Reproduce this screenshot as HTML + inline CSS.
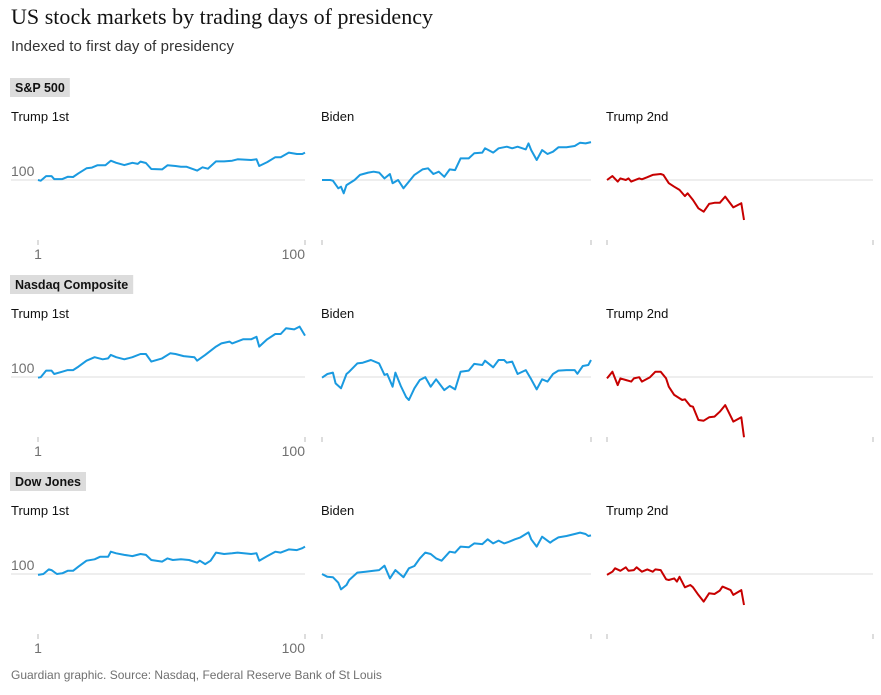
<!DOCTYPE html>
<html><head><meta charset="utf-8">
<style>
body{margin:0;background:#fff;width:881px;height:695px;overflow:hidden;font-family:"Liberation Sans",sans-serif;}
svg{display:block}
</style></head>
<body>
<svg id="chart" width="881" height="695" xmlns="http://www.w3.org/2000/svg">
<text x="11" y="24" font-family="Liberation Serif, serif" font-size="22" fill="#121212" textLength="422">US stock markets by trading days of presidency</text>
<text x="11" y="51" font-size="15" fill="#333" textLength="223">Indexed to first day of presidency</text>
<text x="11" y="679" font-size="12" fill="#707070">Guardian graphic. Source: Nasdaq, Federal Reserve Bank of St Louis</text>
<g id="plots"></g>
</svg>
<script>
const indexNames = ["S&P 500", "Nasdaq Composite", "Dow Jones"];
const presidencies = ["Trump 1st", "Biden", "Trump 2nd"];
const xTickLabels = ["1", "100"];
const baseLabel = "100";

// S&P 500 (percent change from day 1)
const spT1Days = [1,2,4,6,7,10,12,14,16,19,21,23,26,28,30,33,36,38,39,41,43,47,49,52,54,56,60,62,64,67,70,73,75,80,82,83,86,89,91,94,97,99,100];
const spT1Vals = [0,-0.3,1.7,1.7,0.4,0.4,1.4,1.3,2.9,5.1,5.4,6.4,6.4,8.4,7.5,6.5,7.5,7.0,8.0,7.4,4.8,4.6,6.4,6.1,5.8,5.8,4.1,5.5,4.9,8.1,8.1,8.4,9.0,8.7,9.0,6.1,7.8,9.9,9.9,11.9,11.3,11.3,11.9];
const spBDays = [1,4,5,7,8,9,10,13,15,18,20,22,24,26,27,29,31,33,35,38,40,42,44,46,48,50,52,55,57,60,61,64,66,69,71,73,76,77,78,80,82,84,86,88,91,94,96,98,100];
const spBVals = [0,0,-0.3,-3.6,-2.9,-5.8,-2.2,0,2.2,3.2,3.6,3.2,0.7,2.6,-1.4,0,-3.6,-0.7,2.2,4.6,5.1,2.6,3.6,1.4,4.6,4.3,9.4,9.4,11.6,11.9,13.8,11.9,13.8,14.5,13.8,14.5,13.3,15.9,13.0,8.7,13.0,11.3,12.3,14.2,14.2,14.8,16.2,15.9,16.5];
const spT2Days = [1,3,5,6,8,9,10,13,14,16,18,21,22,24,26,28,30,31,33,35,37,39,41,43,45,48,51,52];
const spT2Vals = [0,1.7,-0.7,0.7,0,0.7,-0.7,0.7,0.3,1.2,2.2,2.6,2.2,-1.4,-2.9,-4.3,-7.0,-5.8,-8.7,-12.3,-13.8,-10.4,-9.9,-9.9,-7.2,-11.9,-10.1,-17.4];

// Nasdaq
const nqT1Days = [1,2,4,6,7,10,12,14,16,19,22,25,27,28,30,33,36,39,41,43,47,50,52,55,59,60,63,67,69,72,73,77,80,82,83,86,89,91,93,96,98,100];
const nqT1Vals = [-0.3,-0.1,2.8,2.8,1.3,2.3,3.0,3.0,4.5,7.1,8.6,7.7,8.1,9.6,8.6,7.7,8.6,10.0,10.0,6.7,8.1,10.3,10.0,9.1,8.6,7.1,9.6,13.2,14.6,15.4,14.6,16.4,16.4,17.5,13.2,16.4,18.7,18.7,21.2,20.7,21.9,18.0];
const nqBDays = [1,3,5,6,8,10,11,14,16,19,22,24,25,27,28,30,32,33,35,37,39,41,43,46,48,50,52,55,57,60,61,64,66,68,69,71,73,76,78,80,82,84,86,88,91,94,95,97,99,100];
const nqBVals = [-0.3,1.3,1.9,-2.8,-4.9,1.3,2.3,5.9,6.2,7.4,5.9,0.9,1.3,-4.2,1.9,-3.9,-8.8,-10.0,-4.9,-1.3,-0.1,-4.2,-1.0,-5.7,-3.9,-5.4,2.3,2.8,5.7,5.2,7.1,4.2,7.4,7.4,6.2,6.7,1.3,3.0,-1.0,-5.4,-1.0,-2.0,1.3,2.8,3.0,3.0,1.4,4.8,5.2,7.4];
const nqT2Days = [1,3,5,6,8,10,11,13,14,17,19,21,23,24,26,29,30,32,33,35,37,39,41,43,45,48,51,52];
const nqT2Vals = [-0.6,2.3,-3.5,-0.6,-1.3,-2.0,-0.6,-0.1,-2.0,-0.1,2.3,2.3,-0.6,-4.2,-7.8,-10.0,-9.7,-12.6,-12.9,-18.7,-19.0,-17.5,-17.2,-15.1,-12.2,-19.4,-17.5,-26.2];

// Dow Jones
const djT1Days = [1,3,5,6,8,10,12,14,16,19,22,24,27,28,30,33,36,39,41,43,47,49,51,54,57,60,61,63,65,67,70,73,75,80,82,83,86,89,91,94,97,99,100];
const djT1Vals = [-0.4,0,2.0,1.7,0,0.3,1.4,1.4,3.2,5.8,6.4,7.5,7.5,9.7,9.0,8.3,7.8,8.7,8.3,6.1,5.4,6.8,6.1,6.4,6.1,4.9,5.8,4.3,5.8,9.3,8.7,9.0,9.3,8.7,9.0,5.8,7.8,9.7,9.3,10.7,10.4,11.2,11.9];
const djBDays = [1,3,5,7,8,10,11,14,17,20,22,24,26,28,31,33,35,37,39,41,43,45,48,50,52,55,57,60,62,64,66,68,70,72,74,77,78,80,82,85,86,88,91,94,96,98,99,100];
const djBVals = [0,-1.2,-1.4,-3.8,-6.7,-4.8,-2.6,0.6,1.0,1.4,1.7,3.6,-1.9,1.7,-1.4,2.5,3.5,6.8,9.3,8.7,6.8,5.8,9.7,9.3,11.9,11.6,13.3,13.0,15.1,13.3,14.5,13.3,14.1,15.1,15.9,18.1,15.1,11.9,16.2,13.6,14.5,15.9,16.5,17.4,18.0,17.4,16.5,16.8];
const djT2Days = [1,3,4,6,8,9,11,12,14,16,18,19,21,23,24,26,27,28,30,32,33,35,37,39,41,43,44,47,48,51,52];
const djT2Vals = [-0.4,1.0,2.5,1.4,2.9,1.4,1.7,2.9,1.0,2.0,1.0,2.0,1.7,-2.3,-2.6,-1.9,-3.3,-1.2,-5.8,-4.8,-5.8,-9.1,-12.0,-8.4,-8.7,-7.2,-5.5,-7.0,-9.1,-7.0,-13.5];

const seriesDays = [[spT1Days,spBDays,spT2Days],[nqT1Days,nqBDays,nqT2Days],[djT1Days,djBDays,djT2Days]];
const seriesVals = [[spT1Vals,spBVals,spT2Vals],[nqT1Vals,nqBVals,nqT2Vals],[djT1Vals,djBVals,djT2Vals]];

const NS = "http://www.w3.org/2000/svg";
const root = document.getElementById("plots");
const colX0 = [38, 322, 607], colX1 = [305, 591, 873];
const rowOffset = 197, pxPerPct = 2.3;
function xScale(c, d){ return colX0[c] + (d-1)/99*(colX1[c]-colX0[c]); }
function yScale(r, v){ return 180 + r*rowOffset - v*pxPerPct; }
function mk(tag, attrs, parent){ const e=document.createElementNS(NS,tag); for(const k in attrs) e.setAttribute(k, attrs[k]); parent.appendChild(e); return e; }

indexNames.forEach((name, r) => {
  const oy = r*rowOffset;
  const g = mk("g", {}, root);
  
  
  const bg = mk("rect", {x:10, y:78+oy, width:60, height:19, fill:"#dcdcdc"}, g);
  
  
  const lab = mk("text", {x:15, y:92+oy, "font-size":12.5, fill:"#121212", "font-weight":"bold"}, g);
  
  
  lab.textContent = name;
  bg.setAttribute('width', lab.getComputedTextLength() + 10);

  presidencies.forEach((p, c) => {
    const pg = mk("g", {}, g);
    
    
    const t = mk("text", {x: c===0 ? 11 : colX0[c]-1, y:121+oy, "font-size":13, fill:"#121212"}, pg);
    
    
    t.textContent = p;
    const gx0 = c===0 ? 11 : colX0[c];
    const grid = mk("line", {x1:gx0, x2:colX1[c], y1:yScale(r,0), y2:yScale(r,0), stroke:"#dcdcdc", "stroke-width":1}, pg);
    
    
    if (c===0) {
      const bl = mk("text", {x:11, y:yScale(r,0)-4, "font-size":14, fill:"#707070"}, pg);
      
      
      bl.textContent = baseLabel;
    }
    [colX0[c], colX1[c]].forEach((tx, i) => {
      const tk = mk("line", {x1:tx, x2:tx, y1:240+oy, y2:245+oy, stroke:"#bbb", "stroke-width":1}, pg);
      
      
      if (c===0) {
        const tl = mk("text", {x:tx, y:259+oy, "font-size":14, fill:"#707070", "text-anchor": i===0?"middle":"end"}, pg);
        
        
        tl.textContent = xTickLabels[i];
      }
    });
    const days = seriesDays[r][c], vals = seriesVals[r][c];
    const d = days.map((dy,i)=> (i?"L":"M") + xScale(c,dy).toFixed(1) + "," + yScale(r,vals[i]).toFixed(1)).join("");
    const path = mk("path", {d:d, fill:"none", stroke: c===2 ? "#c70000" : "#1a9ae0", "stroke-width":2, "stroke-linejoin":"round"}, pg);
    
    
  });
});
</script>
</body></html>
